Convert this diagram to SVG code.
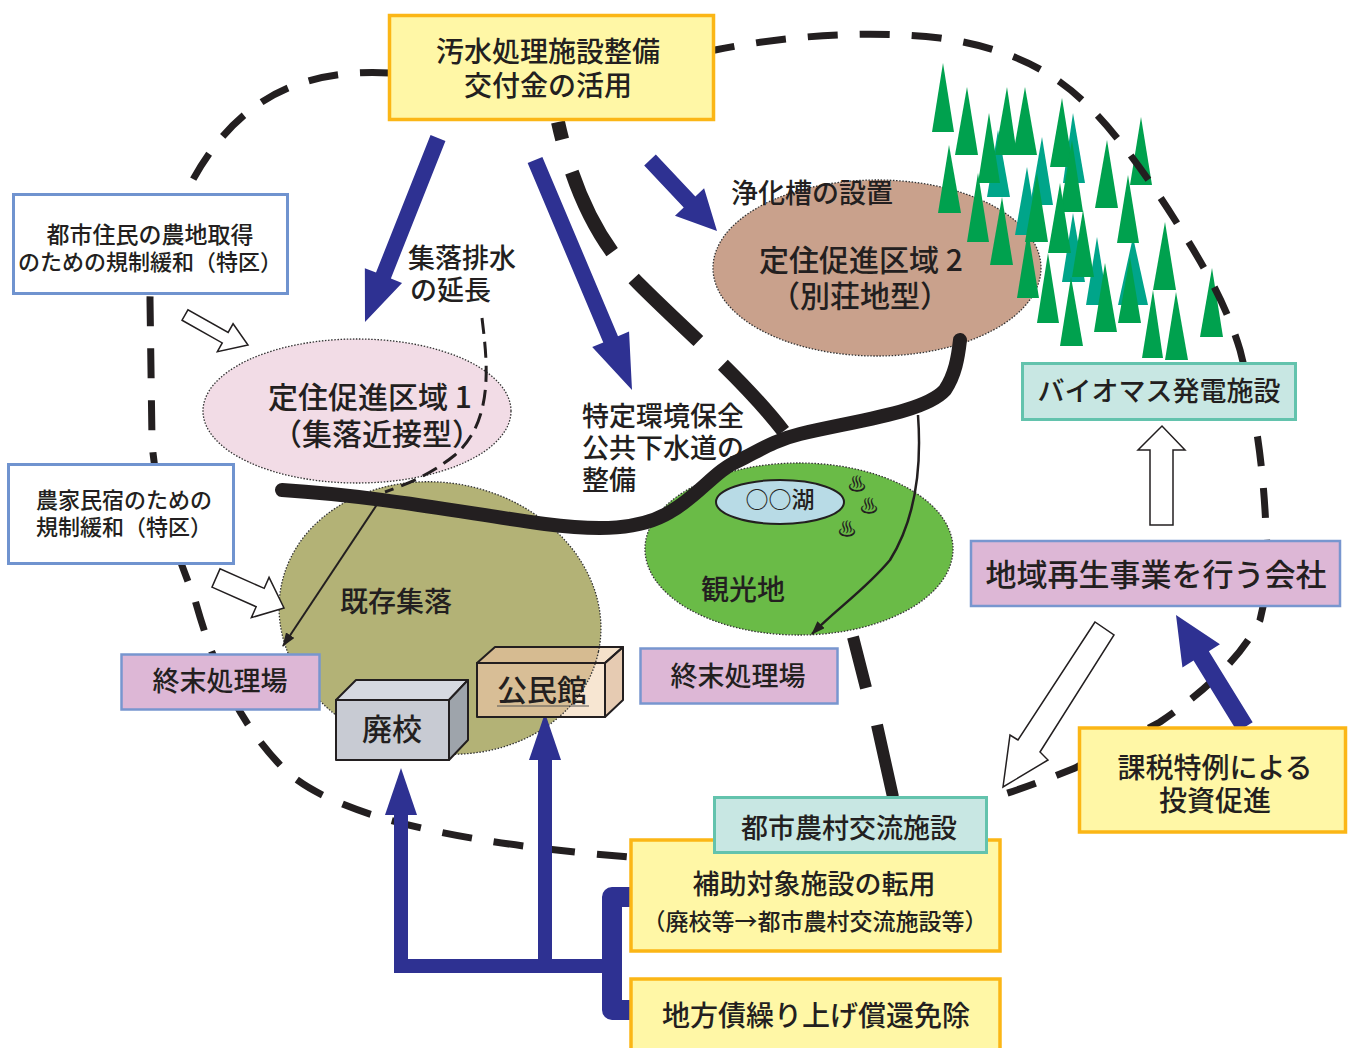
<svg xmlns="http://www.w3.org/2000/svg" width="1348" height="1048" viewBox="0 0 1348 1048">
<defs>
<style>
text{font-family:"Noto Sans CJK JP","Noto Sans CJK SC",sans-serif;fill:#231f20;font-weight:500}
.c{text-anchor:middle}
.yb{fill:#fff7a6;stroke:#fbb616;stroke-width:3.5}
.wb{fill:#fff;stroke:#7093cf;stroke-width:3}
.pb{fill:#ddb7d6;stroke:#7896cf;stroke-width:2.5}
.tb{fill:#c8e7e3;stroke:#63c3ad;stroke-width:3}
.zone{stroke:#333;stroke-width:1.3;stroke-dasharray:1.5 1.6}
.nv{fill:#2e3192}
.ho{fill:#fff;stroke:#231f20;stroke-width:1.5}
.g{fill:#00a14e}
.t{fill:#00a58a}
.blk{fill:none;stroke:#231f20}
.face{stroke:#231f20;stroke-width:2;stroke-linejoin:round}
</style>
<marker id="ah" markerUnits="userSpaceOnUse" markerWidth="14" markerHeight="10" refX="13" refY="5" orient="auto">
<path d="M0,0 L14,5 L0,10 z" fill="#231f20"/>
</marker>
<clipPath id="kmkClip"><polygon points="477,663 495,647 623,647 623,700 605,717 477,717"/></clipPath>
</defs>
<rect width="1348" height="1048" fill="#fff"/>

<!-- zones -->
<g id="zone-village">
<ellipse cx="440" cy="618" rx="162" ry="135" transform="rotate(12 440 618)" fill="#b3b276" class="zone"/>
</g>
<g id="zone-1">
<ellipse cx="357" cy="411" rx="154" ry="72" fill="#f2dce6" class="zone"/>
</g>
<g id="zone-tourism">
<ellipse cx="799" cy="549" rx="154" ry="86" fill="#6abb47" class="zone"/>
<ellipse cx="780" cy="502" rx="64" ry="22" fill="#b8dbe6" stroke="#231f20" stroke-width="2"/>
</g>
<g id="zone-2">
<ellipse cx="877" cy="268" rx="164" ry="88" fill="#c9a18c" class="zone"/>
</g>

<!-- forest -->
<g id="forest">
<polygon class="t" points="998,130 987,197 1010,197"/>
<polygon class="t" points="1073,113 1063,183 1085,183"/>
<polygon class="t" points="1042,137 1030,205 1053,205"/>
<polygon class="t" points="1027,167 1015,235 1038,235"/>
<polygon class="t" points="1073,213 1062,282 1085,282"/>
<polygon class="t" points="1097,237 1086,305 1108,305"/>
<polygon class="t" points="1133,237 1118,305 1148,305"/>
<polygon class="g" points="943,63 932,132 954,132"/>
<polygon class="g" points="967,87 955,155 978,155"/>
<polygon class="g" points="1007,87 995,155 1017,155"/>
<polygon class="g" points="1025,87 1013,155 1037,155"/>
<polygon class="g" points="989,113 978,183 1000,183"/>
<polygon class="g" points="1062,98 1050,167 1073,167"/>
<polygon class="g" points="1141,117 1130,185 1152,185"/>
<polygon class="g" points="949,145 938,213 961,213"/>
<polygon class="g" points="978,173 967,242 989,242"/>
<polygon class="g" points="1072,140 1060,212 1083,212"/>
<polygon class="g" points="1107,140 1095,208 1118,208"/>
<polygon class="g" points="1037,173 1025,242 1048,242"/>
<polygon class="g" points="1128,175 1117,243 1139,243"/>
<polygon class="g" points="1060,183 1048,253 1071,253"/>
<polygon class="g" points="1002,197 990,265 1013,265"/>
<polygon class="g" points="1083,210 1072,277 1094,277"/>
<polygon class="g" points="1165,222 1153,290 1176,290"/>
<polygon class="g" points="1028,230 1017,298 1039,298"/>
<polygon class="g" points="1048,253 1037,323 1059,323"/>
<polygon class="g" points="1130,257 1118,323 1141,323"/>
<polygon class="g" points="1105,263 1094,332 1117,332"/>
<polygon class="g" points="1212,268 1200,337 1223,337"/>
<polygon class="g" points="1071,277 1060,346 1083,346"/>
<polygon class="g" points="1153,290 1142,358 1163,358"/>
<polygon class="g" points="1176,292 1165,360 1188,360"/>
</g>

<!-- connectors -->
<g id="connectors">
<!-- boundary of the area -->
<path class="blk" stroke-width="7" stroke-dasharray="30 22" d="M390,73 C300,68 235,100 190,185 C170,222 150,260 150,300 L152,440 C155,500 180,560 195,600 C212,660 235,720 285,770 C330,812 440,842 630,857 L985,800 C1020,790 1050,778 1075,768 L1160,722 C1200,695 1240,660 1260,620 C1268,590 1268,560 1266,530 C1264,480 1258,420 1240,350 C1225,300 1200,260 1175,220 C1140,165 1100,110 1060,82 C1030,60 990,45 940,38 C870,30 790,35 715,50 Z"/>
<!-- sewer extension -->
<path class="blk" stroke-width="3" stroke-dasharray="16 8" d="M482,318 C487,360 495,420 455,455 C430,475 405,485 385,492"/>
<!-- river and sewer mains -->
<path class="blk" stroke-width="14" stroke-linecap="round" d="M282,490 C380,496 470,514 545,524 C600,531 640,530 670,512 C700,495 715,470 740,460 C760,450 775,440 800,434 C860,420 925,412 945,390 C955,375 958,358 960,340"/>
<path class="blk" stroke-width="14" stroke-dasharray="90 34" stroke-dashoffset="72" d="M558,122 C572,185 595,240 640,285 C690,335 750,385 790,440"/>
<path class="blk" stroke-width="12" d="M853,637 L866,688 M877,725 L893,797"/>
<!-- thin flows to treatment plants -->
<path class="blk" stroke-width="2" marker-end="url(#ah)" d="M378,503 L283,646"/>
<path class="blk" stroke-width="2.5" marker-end="url(#ah)" d="M918,415 C922,470 915,520 890,560 C865,590 835,610 812,634"/>
<!-- navy arrows -->
<polygon class="nv" points="430.56,135.05 376,272.57 364.85,268.14 365,322 402.03,282.9 390.88,278.47 445.44,140.95"/>
<polygon class="nv" points="527.63,163.11 603.26,342.43 592.2,347.09 632,390 629.06,331.55 618,336.21 542.37,156.89"/>
<polygon class="nv" points="644.18,165.49 683.72,207.39 674.99,215.63 717,231 704.09,188.17 695.36,196.41 655.82,154.51"/>
<polygon class="nv" points="1252.67,722.28 1208.86,651.16 1219.93,644.34 1176,615 1182.45,667.42 1193.52,660.6 1237.33,731.72"/>
<path fill="none" stroke="#2e3192" stroke-width="14" d="M401,812 V966 H612 M545,757 V966"/>
<path fill="none" stroke="#2e3192" stroke-width="20" stroke-linejoin="round" d="M633,897 H612 V1010 H633"/>
<polygon class="nv" points="401,768 385,815 417,815"/>
<polygon class="nv" points="545,713 529,760 561,760"/>
<!-- hollow arrows -->
<polygon class="ho" points="182.05,320.23 222.25,342.93 217.33,351.64 248,345 233.07,323.76 228.15,332.47 187.95,309.77"/>
<polygon class="ho" points="211.98,587.16 256.18,606.7 251.35,617.68 284,608 269.05,577.4 264.22,588.38 220.02,568.84"/>
<polygon class="ho" points="1150,525 1150,450 1138,450 1162,426 1185,450 1173,450 1173,525"/>
<polygon class="ho" points="1095,622 1018,740 1010,735 1003,787 1048,760 1040,752 1114,635"/>
</g>

<!-- nodes -->
<g id="n-grant">
<rect class="yb" x="389.5" y="15.5" width="324" height="104"/>
<text class="c" x="548" y="62" font-size="28">汚水処理施設整備</text>
<text class="c" x="548" y="96" font-size="28">交付金の活用</text>
</g>
<g id="n-farmland">
<rect class="wb" x="13.5" y="194.5" width="274" height="99"/>
<text class="c" x="150" y="243" font-size="23">都市住民の農地取得</text>
<text class="c" x="150" y="270" font-size="22">のための規制緩和（特区）</text>
</g>
<g id="n-farmstay">
<rect class="wb" x="8.5" y="464.5" width="225" height="99"/>
<text class="c" x="124" y="508" font-size="22">農家民宿のための</text>
<text class="c" x="124" y="535" font-size="22">規制緩和（特区）</text>
</g>
<g id="n-plant-left">
<rect class="pb" x="121.5" y="654.5" width="198" height="55"/>
<text class="c" x="220" y="691" font-size="27">終末処理場</text>
</g>
<g id="n-plant-right">
<rect class="pb" x="640.5" y="648.5" width="197" height="55"/>
<text class="c" x="738" y="686" font-size="27">終末処理場</text>
</g>
<g id="n-biomass">
<rect class="tb" x="1022.5" y="363.5" width="273" height="56"/>
<text class="c" x="1159" y="401" font-size="27">バイオマス発電施設</text>
</g>
<g id="n-company">
<rect class="pb" x="971" y="541" width="369" height="65"/>
<text class="c" x="1156" y="586" font-size="31">地域再生事業を行う会社</text>
</g>
<g id="n-tax">
<rect class="yb" x="1079.5" y="728" width="266" height="104"/>
<text class="c" x="1215" y="778" font-size="28">課税特例による</text>
<text class="c" x="1215" y="811" font-size="28">投資促進</text>
</g>
<g id="n-conversion">
<rect class="yb" x="631" y="840" width="369" height="111"/>
<text class="c" x="814" y="894" font-size="27">補助対象施設の転用</text>
<text class="c" x="815" y="930" font-size="23">（廃校等→都市農村交流施設等）</text>
</g>
<g id="n-exchange">
<rect class="tb" x="714.5" y="797.5" width="272" height="55"/>
<text class="c" x="849" y="838" font-size="27">都市農村交流施設</text>
</g>
<g id="n-bond">
<rect class="yb" x="631" y="979" width="369" height="80"/>
<text class="c" x="816" y="1026" font-size="28">地方債繰り上げ償還免除</text>
</g>

<g id="n-school">
<rect class="face" x="336" y="700" width="113" height="60" fill="#c8cbd3"/>
<polygon class="face" points="336,700 356,680 468,680 449,700" fill="#d6d9e0"/>
<polygon class="face" points="449,700 468,680 468,740 449,760" fill="#9ea4ab"/>
<text class="c" x="392" y="740" font-size="30">廃校</text>
</g>
<g id="n-hall">
<rect x="477" y="663" width="128" height="54" fill="#f7e6d2"/>
<polygon points="477,663 495,647 623,647 605,663" fill="#f4e1ca"/>
<polygon points="605,663 623,647 623,700 605,717" fill="#e6cbb2"/>
<g clip-path="url(#kmkClip)">
<ellipse cx="440" cy="618" rx="162" ry="135" transform="rotate(12 440 618)" fill="#aa823c" fill-opacity="0.4" class="zone"/>
</g>
<rect class="face" x="477" y="663" width="128" height="54" fill="none"/>
<polygon class="face" points="477,663 495,647 623,647 605,663" fill="none"/>
<polygon class="face" points="605,663 623,647 623,700 605,717" fill="none"/>
<text class="c" x="542" y="701" font-size="30">公民館</text>
<line x1="497" y1="706" x2="589" y2="706" stroke="#555" stroke-width="1"/>
</g>

<!-- free labels -->
<g id="labels">
<text x="408" y="268" font-size="27">集落排水</text>
<text x="410" y="300" font-size="27">の延長</text>
<text x="731" y="203" font-size="27">浄化槽の設置</text>
<text x="582" y="426" font-size="27">特定環境保全</text>
<text x="582" y="458" font-size="27">公共下水道の</text>
<text x="582" y="490" font-size="27">整備</text>
<text class="c" x="370" y="408" font-size="30">定住促進区域 1</text>
<text class="c" x="377" y="445" font-size="30">（集落近接型）</text>
<text class="c" x="861" y="271" font-size="30">定住促進区域 2</text>
<text class="c" x="860" y="307" font-size="30">（別荘地型）</text>
<text class="c" x="396" y="612" font-size="28">既存集落</text>
<text class="c" x="743" y="600" font-size="28">観光地</text>
<text class="c" x="780" y="508" font-size="23">○○湖</text>
<text class="c" x="857" y="491" font-size="19">♨</text>
<text class="c" x="869" y="513" font-size="19">♨</text>
<text class="c" x="847" y="536" font-size="19">♨</text>
</g>
</svg>
